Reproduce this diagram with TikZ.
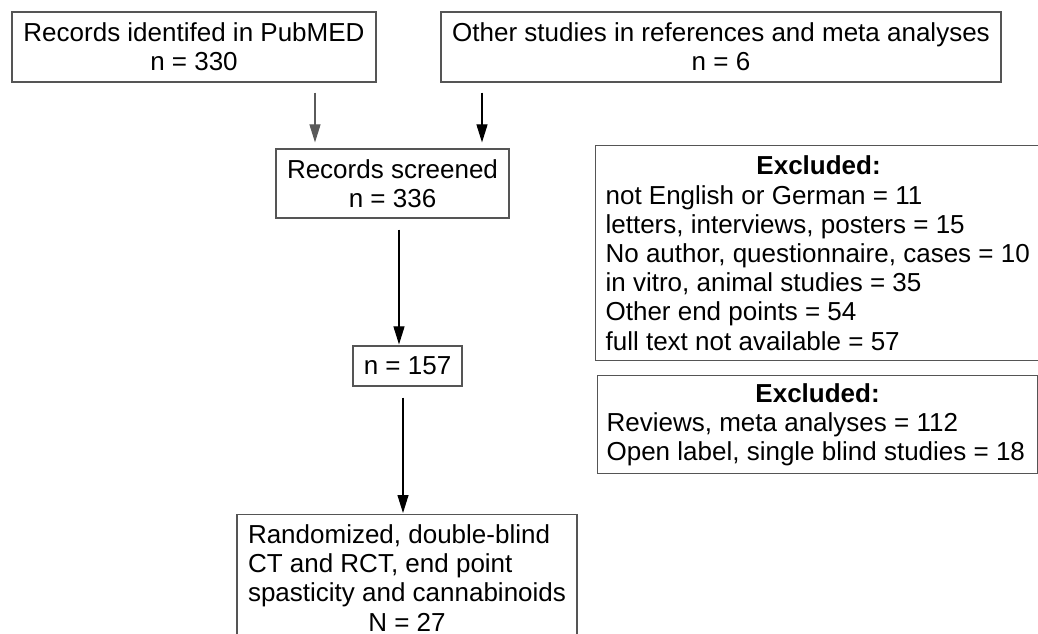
\documentclass[tikz,border=0pt]{standalone}
\usepackage{fontspec}
\setmainfont{Liberation Sans}
\usetikzlibrary{arrows.meta}
\definecolor{boxline}{HTML}{555555}
\definecolor{greyarrow}{HTML}{5A5A5A}
\begin{document}
\begin{tikzpicture}[x=1pt,y=-1pt,
  every node/.style={font=\fontsize{26}{29.2}\selectfont},
  box/.style={draw=boxline,line width=1.2pt,rectangle,inner sep=0pt,align=center},
  arr/.style={draw=black,line width=1.1pt,-{Triangle[length=18pt,width=11pt]}},
  arrgrey/.style={arr,draw=greyarrow,-{Triangle[length=18pt,width=11pt,fill=greyarrow]}}]
\useasboundingbox (0,0) rectangle (1038,633);
\node[box,minimum width=364pt,minimum height=70pt] (A) at (194,47)
  {Records identifed in PubMED\\n = 330};
\node[box,minimum width=560pt,minimum height=70pt] (B) at (721,47)
  {Other studies in references and meta analyses\\n = 6};
\node[box,minimum width=233pt,minimum height=69pt] (C) at (392.5,183.5)
  {Records screened\\n = 336};
\node[box,minimum width=109pt,minimum height=40pt] (D) at (407.5,366)
  {n = 157};
\node[box,anchor=north,inner xsep=11pt,inner ysep=10pt,align=left] (E) at (407,514)
  {Randomized, double-blind\\CT and RCT, end point\\spasticity and cannabinoids\\\makebox[318pt]{N = 27}};
\node[box,anchor=north west,minimum width=446pt,minimum height=215pt,align=left] (X1) at (595,145)
  {\makebox[426pt]{\bfseries Excluded:}\\not English or German = 11\\letters, interviews, posters = 15\\No author, questionnaire, cases = 10\\in vitro, animal studies = 35\\Other end points = 54\\full text not available = 57};
\node[box,anchor=north west,minimum width=440pt,minimum height=98pt,align=left] (X2) at (597,375)
  {\makebox[422pt]{\bfseries Excluded:}\\Reviews, meta analyses = 112\\Open label, single blind studies = 18};
\draw[arrgrey,shorten <=10pt,shorten >=6pt] ([xshift=121pt]A.south) -- ([xshift=-77.5pt]C.north);
\draw[arr,shorten <=10pt,shorten >=6pt] ([xshift=-239pt]B.south) -- ([xshift=89.5pt]C.north);
\draw[arr,shorten <=11pt,shorten >=1pt] ([xshift=6.5pt]C.south) -- ([xshift=-8.5pt]D.north);
\draw[arr,shorten <=11pt,shorten >=1pt] ([xshift=-4.5pt]D.south) -- ([xshift=-4pt]E.north);
\end{tikzpicture}
\end{document}
